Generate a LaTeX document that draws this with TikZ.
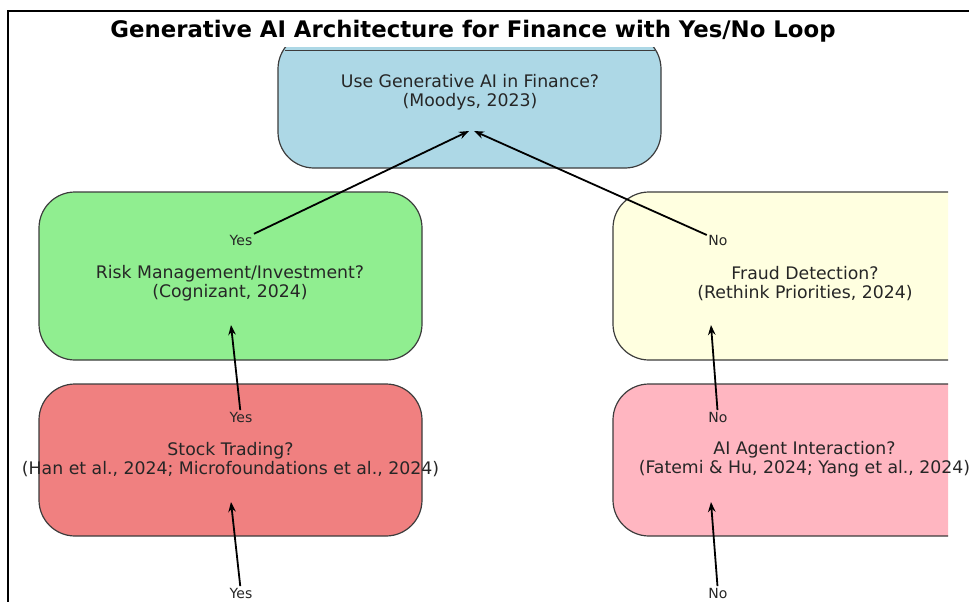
\documentclass[tikz,border=0pt]{standalone}
\usepackage{fontspec}
\setmainfont{DejaVu Sans}
\usetikzlibrary{positioning,arrows.meta}
\definecolor{boxblue}{HTML}{ADD8E6}
\definecolor{boxgreen}{HTML}{90EE90}
\definecolor{boxyellow}{HTML}{FFFFE0}
\definecolor{boxred}{HTML}{F08080}
\definecolor{boxpink}{HTML}{FFB6C1}
\definecolor{edgegray}{HTML}{3C3C3C}
\definecolor{txtgray}{HTML}{262626}

\begin{document}
\begin{tikzpicture}[x=1pt,y=-1pt,
    box/.style={draw=edgegray, line width=1.2pt, rounded corners=36pt,
        inner sep=0pt, minimum width=383pt},
    qtext/.style={align=center, text=txtgray,
        font=\fontsize{17.3}{19}\selectfont},
    answer/.style={text=txtgray, inner sep=1.5pt,
        font=\fontsize{14}{16}\selectfont},
    flow/.style={-{Stealth[length=10pt,width=7.5pt]}, line width=1.8pt}]
\useasboundingbox (0,0) rectangle (969,602);
\draw[line width=1.4pt] (8,602) -- (8,11) -- (969,11);
\node[font=\fontsize{22.8}{26}\bfseries\selectfont] (title) at (473,31.5)
    {Generative AI Architecture for Finance with Yes/No Loop};

\begin{scope}
\clip (0,48) rectangle (969,602);
\node[box, fill=boxblue, minimum height=135pt] (usebox) at (469.5,100.5) {};
\end{scope}
\draw[edgegray, line width=1.2pt] (285,50.5) -- (655,50.5);
\node[box, fill=boxgreen, minimum height=168pt] (riskbox) at (230.5,276) {};
\node[box, fill=boxred, minimum height=152pt] (stockbox) at (230.5,460) {};
\begin{scope}
\clip (0,0) rectangle (948,602);
\node[box, fill=boxyellow, minimum height=168pt] (fraudbox) at (804.5,276) {};
\node[box, fill=boxpink, minimum height=152pt] (agentbox) at (804.5,460) {};
\end{scope}

\node[qtext] (useq) at (470,92.5) {Use Generative AI in Finance?\\(Moodys, 2023)};
\node[qtext] (riskq) at (230,283.5) {Risk Management/Investment?\\(Cognizant, 2024)};
\node[qtext] (fraudq) at (805,283.5) {Fraud Detection?\\(Rethink Priorities, 2024)};
\node[qtext] (stockq) at (230.5,459.5)
    {Stock Trading?\\(Han et al., 2024; Microfoundations et al., 2024)};
\node[qtext] (agentq) at (804.5,459.5)
    {AI Agent Interaction?\\(Fatemi \& Hu, 2024; Yang et al., 2024)};

\coordinate (useyes) at (469,131);
\coordinate (useno) at (474,131);
\coordinate (riskin) at (231,325);
\coordinate (fraudin) at (711,325);
\coordinate (stockin) at (231,502);
\coordinate (agentin) at (711,502);

\node[answer] (yesrisk) at (241,240) {Yes};
\node[answer] (norfraud) at (718,240) {No};
\node[answer] (yesstock) at (241,417) {Yes};
\node[answer] (noagent) at (718,417) {No};
\node[answer] (yesbottom) at (241,593) {Yes};
\node[answer] (nobottom) at (718,593) {No};

\draw[flow] (yesrisk) -- (useyes);
\draw[flow] (norfraud) -- (useno);
\draw[flow] (yesstock) -- (riskin);
\draw[flow] (noagent) -- (fraudin);
\draw[flow] (yesbottom) -- (stockin);
\draw[flow] (nobottom) -- (agentin);
\end{tikzpicture}
\end{document}
